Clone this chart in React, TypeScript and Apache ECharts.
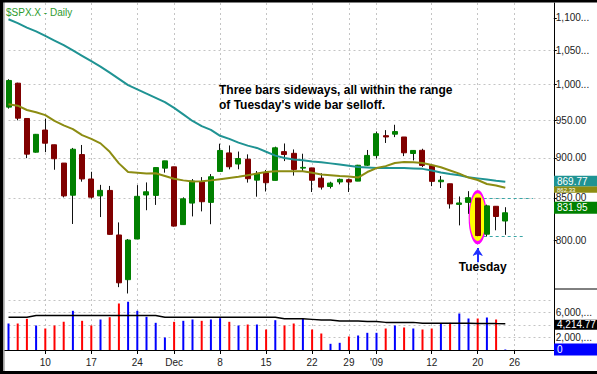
import React, { useEffect, useRef } from 'react';
import * as echarts from 'echarts';

const FONT = 'Arial, "Liberation Sans", sans-serif';

const dates = [
  '11/04','11/05','11/06','11/07','11/10','11/11','11/12','11/13','11/14','11/17',
  '11/18','11/19','11/20','11/21','11/24','11/25','11/26','11/28','12/01','12/02',
  '12/03','12/04','12/05','12/08','12/09','12/10','12/11','12/12','12/15','12/16',
  '12/17','12/18','12/19','12/22','12/23','12/24','12/26','12/29','12/30','12/31',
  '01/02','01/05','01/06','01/07','01/08','01/09','01/12','01/13','01/14','01/15',
  '01/16','01/20','01/21','01/22','01/23','01/26','01/27','01/28','01/29','01/30',
];

const opens = [
  968, 1001.84, 952.4, 907.44, 936.75, 917.15, 893.39, 853.13, 904.36, 873.23,
  852.34, 859.03, 805.87, 755.84, 801.2, 853.4, 852.9, 886.89, 888.61, 817.94,
  843.6, 869.75, 844.43, 882.71, 906.48, 892.17, 898.35, 871.79, 881.07, 871.53,
  908.16, 905.98, 886.96, 887.2, 874.31, 863.87, 869.51, 872.37, 870.58, 890.59,
  902.99, 929.17, 931.17, 927.45, 905.73, 909.91, 890.4, 869.79, 867.28, 841.99,
  844.45, 849.64, 806.77, 839.74, 822.16,
];
const highs = [
  1007.5, 1002.5, 952.4, 931.46, 951.95, 917.15, 893.39, 913.01, 916.88, 882.29,
  865.9, 864.57, 820.52, 801.2, 865.6, 868.94, 887.68, 896.25, 888.61, 850.54,
  873.12, 875.6, 879.42, 918.57, 916.26, 908.27, 904.63, 883.24, 884.63, 914.66,
  918.85, 911.02, 905.47, 887.37, 880.44, 869.79, 873.74, 873.7, 891.12, 910.32,
  934.73, 936.63, 943.85, 927.45, 910, 911.93, 890.4, 877.02, 867.28, 851.59,
  858.13, 849.64, 841.72, 839.74, 838.61,
];
const lows = [
  966, 949.86, 899.73, 906.9, 907.47, 884.9, 850.48, 818.69, 869.88, 848.98,
  826.84, 806.18, 747.78, 741.02, 801.2, 834.99, 841.37, 881.21, 815.69, 817.94,
  827.6, 833.6, 818.41, 882.71, 885.38, 885.45, 868.73, 851.35, 857.72, 871.53,
  895.94, 877.44, 883.02, 857.09, 860.1, 861.44, 866.52, 857.07, 870.58, 889.67,
  899.35, 919.53, 927.28, 902.37, 896.81, 888.31, 864.32, 862.02, 836.93, 817.04,
  830.66, 804.47, 804.3, 811.29, 806.07,
];
const closes = [
  1005.75, 952.77, 904.88, 930.99, 919.21, 898.95, 852.3, 911.29, 873.29, 850.75,
  859.12, 806.58, 752.44, 800.03, 851.81, 857.39, 887.68, 896.24, 816.21, 848.81,
  870.74, 845.22, 876.07, 909.7, 888.67, 899.24, 873.59, 879.73, 868.57, 913.18,
  904.42, 885.28, 887.88, 871.63, 863.16, 868.15, 872.8, 869.42, 890.64, 903.25,
  931.8, 927.45, 934.7, 906.65, 909.73, 890.35, 870.26, 871.79, 842.62, 843.74,
  850.12, 805.22, 840.24, 827.5, 831.95,
];
const volumes = [
  4240, 4240, 4990, 3920, 3440, 3920, 4510, 6270, 4670, 3920,
  4880, 5250, 7440, 7710, 6270, 5310, 4350, 2000, 4510, 4670,
  4880, 4670, 4880, 5090, 4510, 3920, 4080, 4080, 3280, 4770,
  3920, 4240, 4990, 3280, 2640, 990, 1150, 2160, 2320, 2750,
  2750, 3440, 3920, 3600, 3440, 3280, 3440, 4190, 4350, 5840,
  5040, 5040, 5200, 4880, 80,
];
const volumeAvg = [
  5250, 5250, 5250, 5520, 5520, 5520, 5520, 5520, 5520, 5520,
  5520, 5520, 5520, 5520, 5520, 5520, 5520, 5250, 5250, 5250,
  5250, 5250, 5250, 5250, 5250, 5250, 5250, 5250, 5250, 5250,
  5000, 5000, 5000, 4900, 4800, 4800, 4650, 4650, 4650, 4550,
  4550, 4420, 4420, 4420, 4420, 4280, 4280, 4300, 4290, 4280,
  4270, 4250, 4240, 4225, 4214.77,
];
const ma50 = [
  1098, 1092, 1085, 1079, 1072, 1065, 1058, 1050, 1042, 1034,
  1026, 1017, 1008, 999, 993, 987, 981, 975, 967, 958,
  949, 942, 937, 929, 925, 920, 916, 913, 908, 903,
  900, 898, 897, 895.5, 894.5, 893, 891.5, 890, 888.4, 887.8,
  887.2, 887, 887, 887, 886.5, 886, 884, 881.5, 879.5, 878,
  875.5, 874, 872.5, 871, 869.77,
];
const ma20 = [
  972, 970, 964, 961, 957, 949, 943, 938, 930, 925,
  919, 908, 893, 882, 881, 880, 880.5, 877, 873.5, 871.5,
  870, 870.5, 871.5, 873, 874.5, 876, 878, 880, 882, 883,
  883, 883, 883, 881, 879, 878, 877, 876.5, 875, 882,
  887, 889.5, 893.5, 894.8, 894.5, 893.5, 891, 888, 884, 880,
  875, 872, 867, 865, 862.33,
];
const tickDates = ['11/10','11/17','11/24','12/01','12/08','12/15','12/22','12/29','01/02','01/12','01/20','01/26'];
const tickTexts = ['10','17','24','Dec','8','15','22','29',"'09",'12','20','26'];
const priceTicks = [800, 850, 900, 950, 1000, 1050, 1100];
const tuesday = '01/20';

const TEAL = '#1f9393';
const OLIVE = '#8c8c12';
const GRID = '#c4c4c4';

export default function App() {
  const ref = useRef<HTMLDivElement>(null);
  useEffect(() => {
    document.body.style.margin = '0';
    const chart = echarts.init(ref.current!, null, { renderer: 'svg' });
    const ti = dates.indexOf(tuesday);
    const isTick = (_i: number, v: string) => tickDates.indexOf(v) >= 0;
    const wickData = opens.map((o, i) => [o, closes[i], lows[i], highs[i]]);
    const bodyData = opens.map((o, i) => [o, closes[i], Math.min(o, closes[i]), Math.max(o, closes[i])]);
    const volData = volumes.map((v, i) => ({
      value: v,
      itemStyle: { color: i === 0 || closes[i] >= closes[i - 1] ? '#0000ff' : '#ff0000' },
    }));
    const splitStyle = { color: GRID, type: [2, 3] as number[], width: 1 };

    const option: any = {
      animation: false,
      backgroundColor: '#ffffff',
      textStyle: { fontFamily: FONT },
      grid: [
        { left: 8.5, top: 3, width: 542.8, height: 286 },
        { left: 8.5, top: 289, width: 542.8, height: 61 },
      ],
      xAxis: [
        {
          type: 'category', gridIndex: 0, data: dates, boundaryGap: false,
          axisLine: { show: false }, axisTick: { show: false }, axisLabel: { show: false },
          splitLine: { show: true, interval: isTick, lineStyle: splitStyle },
        },
        {
          type: 'category', gridIndex: 1, data: dates, boundaryGap: false,
          axisLine: { show: false },
          axisTick: { show: true, interval: isTick, length: 4, lineStyle: { color: '#000' } },
          axisLabel: {
            show: true, interval: isTick, margin: 7, fontSize: 10, color: '#222', fontFamily: FONT,
            formatter: (v: string) => tickTexts[tickDates.indexOf(v)] ?? '',
          },
          splitLine: { show: true, interval: isTick, lineStyle: splitStyle },
        },
      ],
      yAxis: [
        {
          type: 'log', gridIndex: 0, position: 'right', offset: 2.5, min: 745.8, max: 1123.9,
          axisLine: { show: true, lineStyle: { color: '#000' } },
          axisTick: { show: true, length: 3, customValues: priceTicks, lineStyle: { color: '#000' } },
          axisLabel: {
            customValues: priceTicks, margin: 2, fontSize: 10, color: '#222', fontFamily: FONT,
            formatter: (v: number) => (v >= 1000 ? v.toLocaleString('en-US') + '...' : v.toFixed(2)),
          },
          splitLine: { show: true, showMinLine: false, showMaxLine: false, lineStyle: splitStyle },
        },
        {
          type: 'value', gridIndex: 1, position: 'right', offset: 2.5, min: 0, max: 9760, interval: 2000,
          axisLine: { show: true, lineStyle: { color: '#000' } },
          axisTick: { show: false },
          axisLabel: {
            margin: 2, fontSize: 10, color: '#222', fontFamily: FONT,
            formatter: (v: number) => (v === 6000 || v === 2000 ? v.toLocaleString('en-US') + ',...' : ''),
          },
          splitLine: { show: true, showMinLine: false, showMaxLine: false, lineStyle: splitStyle },
        },
      ],
      series: [
        {
          name: 'MA50', type: 'line', xAxisIndex: 0, yAxisIndex: 0, data: ma50,
          symbol: 'none', lineStyle: { color: TEAL, width: 2 }, silent: true,
          markLine: {
            silent: true, z: 6, symbol: ['none', 'arrow'], symbolSize: 8,
            label: { show: false }, lineStyle: { color: '#1f2fff', width: 2, type: 'solid' },
            data: [[{ coord: [tuesday, 775] }, { coord: [tuesday, 791] }]],
          },
        },
        {
          name: 'MA20', type: 'line', xAxisIndex: 0, yAxisIndex: 0, data: ma20,
          symbol: 'none', lineStyle: { color: OLIVE, width: 2 }, silent: true,
          markLine: {
            silent: true, z: 1, symbol: ['none', 'none'], label: { show: false },
            lineStyle: { color: '#3aa6a6', width: 1, type: [3, 3] },
            data: [
              [{ coord: [tuesday, highs[ti]] }, { coord: ['01/28', highs[ti]] }],
              [{ coord: [tuesday, lows[ti]] }, { coord: ['01/27', lows[ti]] }],
            ],
          },
        },
        {
          name: 'wick', type: 'candlestick', xAxisIndex: 0, yAxisIndex: 0, data: wickData,
          barWidth: 1, clip: true, silent: true,
          itemStyle: { color: '#111', color0: '#111', borderColor: '#111', borderColor0: '#111', borderWidth: 1 },
          markPoint: {
            silent: true, z: 1.5,
            symbol: 'path://M0,50A50,50,0,1,1,100,50A50,50,0,1,1,0,50Z',
            symbolSize: [17, 51],
            itemStyle: { color: '#ffff00', borderColor: '#ff00ff', borderWidth: 2 },
            label: { show: false },
            data: [{ coord: [tuesday, Math.sqrt(highs[ti] * lows[ti])] }],
          },
        },
        {
          name: 'body', type: 'candlestick', xAxisIndex: 0, yAxisIndex: 0, data: bodyData,
          barWidth: 5.5, clip: false, silent: true,
          itemStyle: { color: '#008000', color0: '#800000', borderColor: '#008000', borderColor0: '#800000', borderWidth: 1 },
          markPoint: {
            silent: true, z: 6, symbol: 'rect', symbolSize: 1,
            itemStyle: { color: 'rgba(0,0,0,0)' },
            label: {
              show: true, position: 'inside', offset: [5, 0], formatter: 'Tuesday',
              fontSize: 12, fontWeight: 'bold', color: '#000', fontFamily: FONT,
            },
            data: [{ coord: [tuesday, 770] }],
          },
        },
        {
          name: 'Volume', type: 'bar', xAxisIndex: 1, yAxisIndex: 1, data: volData,
          barWidth: 2, silent: true,
        },
        {
          name: 'VolAvg', type: 'line', xAxisIndex: 1, yAxisIndex: 1, data: volumeAvg,
          symbol: 'none', lineStyle: { color: '#000', width: 1.5 }, silent: true,
        },
      ],
    };
    chart.setOption(option);

    const py = (axis: number, v: number) => chart.convertToPixel({ yAxisIndex: axis } as any, v) as number;
    const tag = (y: number, h: number, bg: string, text: string, fs = 10) => ({
      type: 'group', z: 20,
      children: [
        { type: 'rect', z: 20, shape: { x: 554, y, width: 43, height: h }, style: { fill: bg } },
        {
          type: 'text', z: 21, x: 557, y: y + h / 2,
          style: { text, fill: '#fff', fontSize: fs, fontFamily: FONT, verticalAlign: 'middle' },
        },
      ],
    });
    const last = closes.length - 1;
    const yTeal = py(0, ma50[last]);
    const yClose = py(0, closes[last]);
    const yAvg = py(1, volumeAvg[last]);
    const yVol = py(1, volumes[last]);
    const tealTop = yTeal - 6;

    chart.setOption({
      graphic: [
        {
          type: 'text', left: 219, top: 82, z: 20,
          style: {
            text: "Three bars sideways, all within the range\nof Tuesday's wide bar selloff.",
            fill: '#000', fontSize: 12, fontWeight: 'bold', fontFamily: FONT, lineHeight: 15,
          },
        },
        {
          type: 'text', left: 6, top: 7, z: 20,
          style: { text: '$SPX.X - Daily', fill: '#2e9b2e', fontSize: 10, fontFamily: FONT },
        },
        tag(tealTop + 10.5, 6.5, OLIVE, ma20[last].toFixed(2), 6),
        tag(tealTop, 10.5, TEAL, ma50[last].toFixed(2)),
        tag(yClose - 11, 12, '#008000', closes[last].toFixed(2)),
        tag(yAvg - 4, 10, '#000', volumeAvg[last].toLocaleString('en-US', { minimumFractionDigits: 2 })),
        tag(yVol - 6, 12, '#0000ff', '0'),
        { type: 'line', z: 20, shape: { x1: 554, y1: 289, x2: 597, y2: 289 }, style: { stroke: '#000', lineWidth: 1 } },
        { type: 'line', z: 20, shape: { x1: 4, y1: 350.5, x2: 554, y2: 350.5 }, style: { stroke: '#000', lineWidth: 1 } },
        { type: 'rect', z: 30, shape: { x: 0, y: 0, width: 3.3, height: 374 }, style: { fill: '#000' } },
        { type: 'line', z: 30, shape: { x1: 4, y1: 0, x2: 4, y2: 374 }, style: { stroke: '#999', lineWidth: 1.3 } },
        { type: 'rect', z: 30, shape: { x: 0, y: 0, width: 597, height: 2.5 }, style: { fill: '#000' } },
        { type: 'rect', z: 30, shape: { x: 0, y: 371, width: 597, height: 3 }, style: { fill: '#000' } },
      ],
    });
    return () => chart.dispose();
  }, []);
  return <div ref={ref} style={{ width: 597, height: 374, background: '#fff' }} />;
}
